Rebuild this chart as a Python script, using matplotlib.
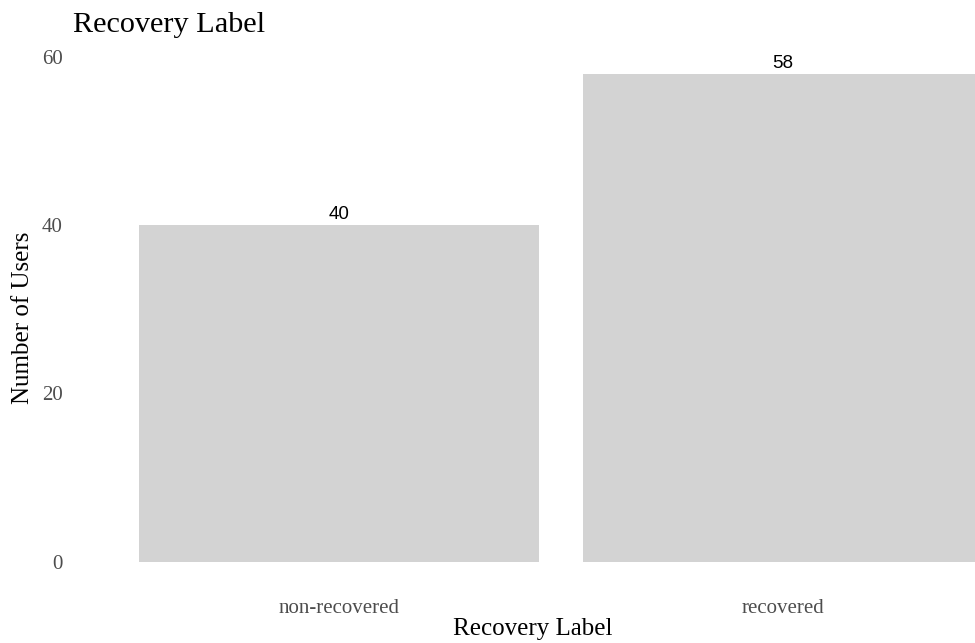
import numpy as np
import matplotlib.pyplot as plt

categories = ['non-recovered', 'recovered']
counts = [40, 58]
yticks = [0, 20, 40, 60]

plt.rcParams['font.family'] = 'Liberation Serif'

fig = plt.figure(figsize=(9.75, 6.43), dpi=100)
W, H = 975, 643

# panel in pixel terms, right side runs off the canvas
left_px, right_px = 72.6, 975
top_px, bottom_px = 49.5, 586.1
ax = fig.add_axes([left_px / W, (H - bottom_px) / H,
                   (right_px - left_px) / W, (bottom_px - top_px) / H])

x = np.arange(1, len(categories) + 1)
ax.bar(x, counts, width=0.9, color='#d3d3d3', edgecolor='none')

for xi, c in zip(x, counts):
    ax.annotate(str(c), (xi, c), xytext=(0, 1.5), textcoords='offset points',
                ha='center', va='bottom', fontsize=13.5, family='Liberation Sans',
                color='black')

unit_px = 444.0
ax.set_xlim(0.4, 0.4 + (right_px - left_px) / unit_px)
ax.set_ylim(-2.9, 60.9)

ax.set_xticks(x)
ax.set_xticklabels(categories)
ax.set_yticks(yticks)
ax.tick_params(axis='both', length=0, labelsize=15, labelcolor='#4d4d4d')
ax.tick_params(axis='y', pad=7)
ax.tick_params(axis='x', pad=9)

for s in ax.spines.values():
    s.set_visible(False)
ax.grid(False)

ax.set_xlabel('Recovery Label', fontsize=18, color='black')
ax.set_ylabel('Number of Users', fontsize=18, color='black')
ax.xaxis.set_label_coords((533 - left_px) / (right_px - left_px),
                          (bottom_px - 629) / (bottom_px - top_px))
ax.xaxis.label.set_va('center')
ax.yaxis.set_label_coords((23 - left_px) / (right_px - left_px), 0.5)
ax.yaxis.label.set_va('center')

fig.text(left_px / W, (H - 32) / H, 'Recovery Label', fontsize=21.8,
         ha='left', va='baseline', color='black')

fig.savefig('out.png', dpi=100, facecolor='white')
